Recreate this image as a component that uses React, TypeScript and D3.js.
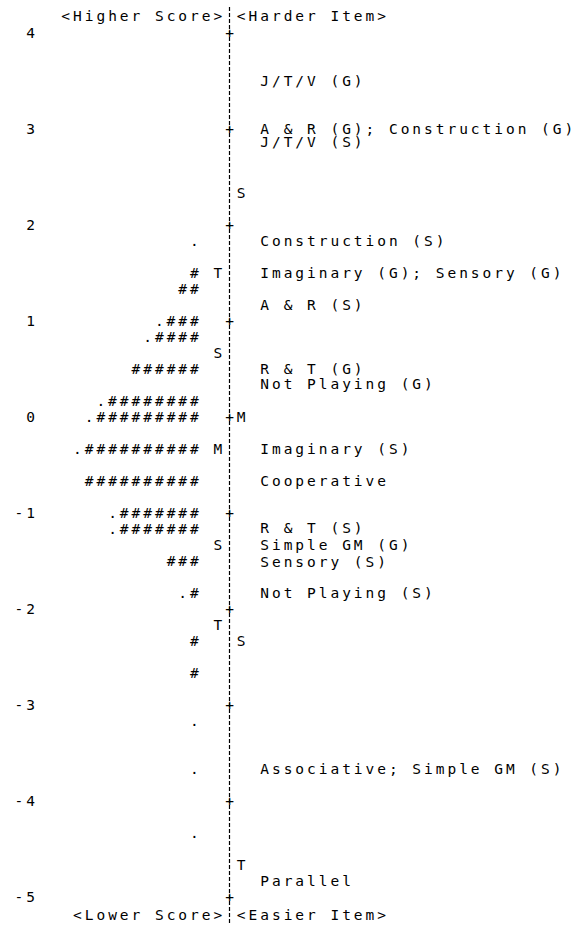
import React from "react";
import * as d3 from "d3";

// ---- data ----
const tickValues = [4, 3, 2, 1, 0, -1, -2, -3, -4, -5];

const personMeasures = [1.833, 1.5, 1.333, 1.0, 0.833, 0.5, 0.167, 0, -0.333, -0.667, -1.0, -1.167, -1.5, -1.833, -2.333, -2.667, -3.167, -3.667, -4.333];
const personBars = [".", "#", "##", ".###", ".####", "######", ".########", ".#########", ".##########", "##########", ".#######", ".#######", "###", ".#", "#", "#", ".", ".", "."];

const personMarkerLabels = ["T", "S", "M", "S", "T"];
const personMarkerMeasures = [1.5, 0.667, -0.333, -1.333, -2.167];

const itemMarkerLabels = ["S", "M", "S", "T"];
const itemMarkerMeasures = [2.333, 0, -2.333, -4.667];

const itemLabels = [
  "J/T/V (G)",
  "A & R (G); Construction (G)",
  "J/T/V (S)",
  "Construction (S)",
  "Imaginary (G); Sensory (G)",
  "A & R (S)",
  "R & T (G)",
  "Not Playing (G)",
  "Imaginary (S)",
  "Cooperative",
  "R & T (S)",
  "Simple GM (G)",
  "Sensory (S)",
  "Not Playing (S)",
  "Associative; Simple GM (S)",
  "Parallel",
];
const itemMeasures = [3.5, 3.0, 2.87, 1.833, 1.5, 1.167, 0.5, 0.35, -0.333, -0.667, -1.156, -1.333, -1.51, -1.833, -3.667, -4.833];

const headerLeft = "<Higher Score>";
const headerRight = "<Harder Item>";
const footerLeft = "<Lower Score>";
const footerRight = "<Easier Item>";

// ---- layout ----
const W = 582;
const H = 926;
const FS = 14.5;
const PITCH = 11.7;
const LS = PITCH - 0.602 * FS;
const AXIS_COL = 18;

export default function App() {
  const y = d3.scaleLinear().domain([4, -5]).range([33, 897]);
  const glyphHalf = (0.602 * FS) / 2;
  const colX = d3.scaleLinear().domain([0, AXIS_COL]).range([229.5 - glyphHalf - AXIS_COL * PITCH, 229.5 - glyphHalf]);
  const axisX = 229.5;

  const textStyle: React.CSSProperties = {
    fontFamily: "'DejaVu Sans Mono', monospace",
    fontSize: FS,
    letterSpacing: LS,
    whiteSpace: "pre",
  };

  const T = (key: string, col: number, yy: number, s: string) => (
    <text key={key} x={colX(col)} y={yy} dy="0.36em" style={textStyle} fill="#000">
      {s}
    </text>
  );

  return (
    <svg
      width={W}
      height={H}
      style={{ position: "absolute", left: 0, top: 0, background: "#fff" }}
    >
      <rect x={0} y={0} width={W} height={H} fill="#fff" />
      {/* axis */}
      <line x1={axisX} x2={axisX} y1={7} y2={924} stroke="#000" strokeWidth={1.2} strokeDasharray="4 2" />

      {/* header / footer */}
      {T("hl", AXIS_COL - headerLeft.length, 16, headerLeft)}
      {T("hr", AXIS_COL + 1, 16, headerRight)}
      {T("fl", AXIS_COL - footerLeft.length, 915, footerLeft)}
      {T("fr", AXIS_COL + 1, 915, footerRight)}

      {/* ticks and labels */}
      {tickValues.map((v) => {
        const s = String(v);
        return (
          <g key={"t" + v}>
            {T("tl" + v, 2 - s.length, y(v), s)}
            {T("tp" + v, AXIS_COL, y(v), "+")}
          </g>
        );
      })}

      {/* persons */}
      {personBars.map((s, i) => T("p" + i, AXIS_COL - 2 - s.length, y(personMeasures[i]), s))}
      {personMarkerLabels.map((s, i) => T("pm" + i, AXIS_COL - 1, y(personMarkerMeasures[i]), s))}

      {/* items */}
      {itemMarkerLabels.map((s, i) => T("im" + i, AXIS_COL + 1, y(itemMarkerMeasures[i]), s))}
      {itemLabels.map((s, i) => T("it" + i, AXIS_COL + 3, y(itemMeasures[i]), s))}
    </svg>
  );
}
